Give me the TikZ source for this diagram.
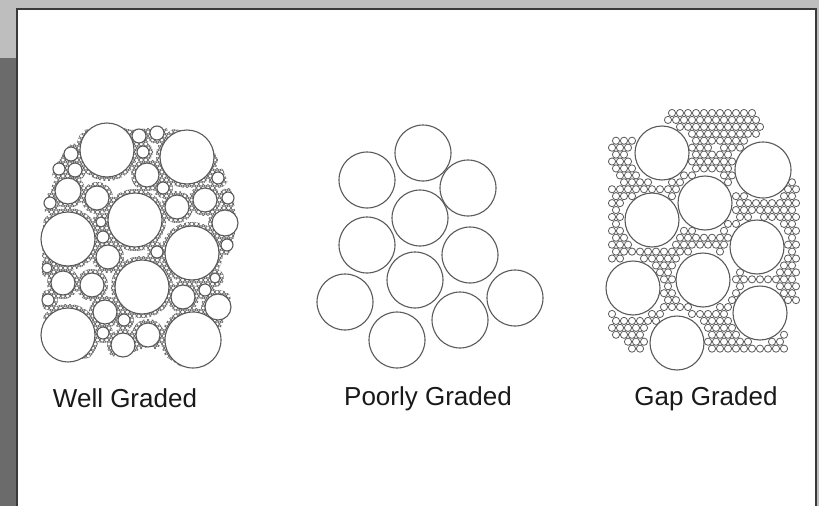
\documentclass[tikz,border=0pt]{standalone}
\usepackage{fontspec}
\setmainfont{Liberation Sans}
\usepackage{xcolor}
\usepackage{tikz}
\usetikzlibrary{positioning}

\definecolor{barlight}{HTML}{BEBEBE}
\definecolor{bardark}{HTML}{6B6B6B}
\definecolor{rim}{HTML}{3A3A3A}
\definecolor{ink}{HTML}{5A5A5A}

% big, medium and small grains of the well graded heap: x/y/r
\def\welllist{107/150/27, 187/157/27, 68/239/27, 135/220/27, 192/253/27, 142/287/27, 68/335/27, 193/340/28,
	147/175/12, 68/191/13, 97/198/12, 177/207/12, 205/200/12, 225/223/13, 108/257/12, 63/283/12, 92/285/12,
	183/297/12, 218/307/13, 105/312/12, 123/345/12, 148/335/12,
	71/154/7, 139/136/7, 157/133/7, 143/152/6, 59/169/6, 75/170/7, 50/203/6, 163/188/6, 218/178/6, 228/198/6,
	227/245/6, 101/222/5, 103/237/6, 157/252/6, 47/268/5, 48/300/6, 205/290/6, 215/278/5, 124/320/6, 103/333/6}
\def\poorlist{423/153, 367/180, 468/188, 420/218, 367/245, 470/255, 415/280, 345/302, 515/298, 460/320, 397/340}
\def\gaplist{662/153/27, 763/170/28, 705/203/27, 652/220/27, 757/247/27, 703/280/27, 633/288/27, 760/313/27, 677/343/27}

\begin{document}
\begin{tikzpicture}[x=1pt, y=-1pt,
		grain/.style={draw=ink, fill=white, line width=1.1pt},
		fine/.style={draw=ink, fill=white, line width=0.8pt},
		tiny/.style={draw=ink, line width=0.6pt},
		lbl/.style={anchor=base, text=black!90, font=\fontsize{26}{30}\selectfont}]
	\useasboundingbox (0,0) rectangle (819,506);
	% frame
	\fill[barlight] (0,0) rectangle (819,506);
	\fill[bardark] (0,58) rectangle (17,506);
	\fill[white] (17,9) rectangle (816,506);
	\draw[rim, line width=1.2pt] (17,506) -- (17,9) -- (816,9) -- (816,506);

	% well graded
	\begin{scope}
		\clip (42,240) -- (45,205) -- (54,168) -- (65,150) -- (85,130) -- (107,124) -- (132,130) -- (157,127)
			-- (187,131) -- (212,147) -- (224,172) -- (233,196) -- (237,222) -- (232,248) -- (222,265)
			-- (231,300) -- (222,325) -- (205,366) -- (180,366) -- (150,346) -- (123,356) -- (95,357)
			-- (68,361) -- (46,348) -- (42,300) -- cycle;
		\clip \foreach \cx/\cy/\r in \welllist {(\cx,\cy) circle[radius=\r+4]};
		\foreach \i in {0,...,62}
			\draw[tiny] \foreach \j in {0,...,43} {({40+4.6*\j+2.3*mod(\i,2)},{120+4*\i}) circle[radius=2]};
	\end{scope}
	\foreach \cx/\cy/\r in \welllist
		\draw[grain] (\cx,\cy) circle[radius=\r];

	% poorly graded
	\foreach \cx/\cy in \poorlist
		\draw[grain] (\cx,\cy) circle[radius=28];

	% gap graded
	\foreach \i in {0,...,35}{
		\foreach \j in {0,...,23}{
			\pgfmathsetmacro{\px}{608+8*\j+4*mod(\i,2)}
			\pgfmathsetmacro{\py}{113+6.93*\i}
			\pgfmathsetmacro{\dmin}{min(veclen(\px-662,\py-153)-27, veclen(\px-763,\py-170)-28,
				veclen(\px-705,\py-203)-27, veclen(\px-652,\py-220)-27, veclen(\px-757,\py-247)-27,
				veclen(\px-703,\py-280)-27, veclen(\px-633,\py-288)-27, veclen(\px-760,\py-313)-27,
				veclen(\px-677,\py-343)-27)}
			\pgfmathtruncatemacro{\keep}{(\dmin>3.4)&&((\dmin<24)||((\py<145)&&(\px>668)&&(\px<760)))
				&&(\px>610)&&(\px<797)&&(\py<350)&&!((\px<668)&&(\py<138))&&!((\px>760)&&(\py<150))
				&&!((\px>780)&&(\py<182))&&!((\px>785)&&(\py>302))}
			\ifnum\keep=1 \draw[fine] (\px,\py) circle[radius=3.6]; \fi
		}
	}
	\foreach \cx/\cy/\r in \gaplist
		\draw[grain] (\cx,\cy) circle[radius=\r];

	\node[lbl] (well) at (125,407) {Well Graded};
	\node[lbl] (poor) at (428,405) {Poorly Graded};
	\node[lbl] (gap) at (706,405) {Gap Graded};
\end{tikzpicture}
\end{document}
